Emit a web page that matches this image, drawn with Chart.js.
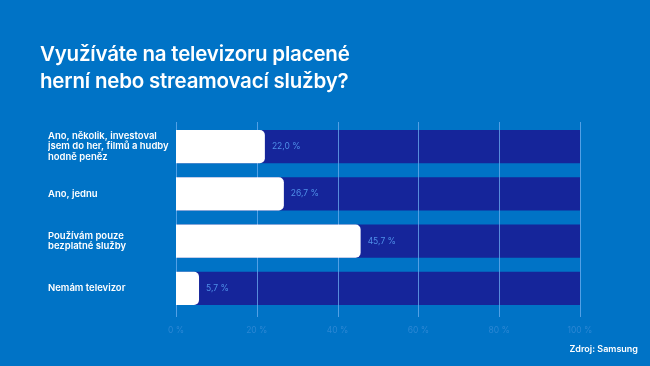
<!DOCTYPE html>
<html>
<head>
<meta charset="utf-8">
<script src="https://cdn.jsdelivr.net/npm/chart.js@4"></script>
<style>
  body { margin: 0; background: #0073c6; }
  #wrap { position: relative; width: 650px; height: 366px; overflow: hidden; background: #0073c6; }
  #title {
    position: absolute; left: 40px; top: 40px;
    color: #fff; font-family: Inter, sans-serif; font-weight: 600;
    font-size: 20.5px; line-height: 27px; letter-spacing: -0.2px;
  }
  #source {
    position: absolute; right: 12px; top: 343px;
    color: #fff; font-family: Inter, sans-serif; font-weight: 600; font-size: 9px;
  }
</style>
</head>
<body>
<div id="wrap">
  <canvas id="chart" width="650" height="366"></canvas>
  <div id="title">Využíváte na televizoru placené<br>herní nebo streamovací služby?</div>
  <div id="source">Zdroj: Samsung</div>
</div>
<script>
    //Data
    const categories = [
        ["Ano, několik, investoval", "jsem do her, filmů a hudby", "hodně peněz"],
        "Ano, jednu",
        ["Používám pouze", "bezplatné služby"],
        "Nemám televizor"
    ];
    const shares = [22.0, 26.7, 45.7, 5.7];
    const totals = [100, 100, 100, 100];
    const xTicks = [0, 20, 40, 60, 80, 100];

    const colors = {
        bg : "#0073c6",
        navy : "#15259a",
        white : "#ffffff",
        grid : "rgba(110, 175, 240, 0.75)",
        tick : "#2a87d4",
        value : "#4f8fe8"
    };

    const fmt = v => v.toFixed(1).replace(".", ",") + " %";

    //Grid lines go over the navy bars but under the white ones
    const gridOverNavy = {
        id : "gridOverNavy",
        afterDatasetDraw(chart, args) {
            if (args.index !== 1) return;
            const ctx = chart.ctx;
            const x = chart.scales.x;
            const area = chart.chartArea;
            ctx.save();
            ctx.strokeStyle = colors.grid;
            ctx.lineWidth = 1;
            for (const t of xTicks) {
                const px = Math.round(x.getPixelForValue(t)) + 0.5;
                ctx.beginPath();
                ctx.moveTo(px, area.top - 1);
                ctx.lineTo(px, area.bottom + 5);
                ctx.stroke();
            }
            ctx.restore();
        }
    };

    const valueLabels = {
        id : "valueLabels",
        afterDatasetsDraw(chart) {
            const ctx = chart.ctx;
            const meta = chart.getDatasetMeta(0);
            ctx.save();
            ctx.fillStyle = colors.value;
            ctx.font = "400 8.5px Inter, sans-serif";
            ctx.textAlign = "left";
            ctx.textBaseline = "middle";
            meta.data.forEach((bar, i) => {
                ctx.fillText(fmt(shares[i]), bar.x + 7, bar.y);
            });
            ctx.restore();
        }
    };

    new Chart("chart", {
        type : "bar",
        data : {
            labels : categories,
            datasets : [
                {
                    label : "share",
                    data : shares,
                    backgroundColor : colors.white,
                    borderRadius : 5,
                    borderSkipped : "start",
                    grouped : false,
                    barPercentage : 0.7,
                    categoryPercentage : 1
                },
                {
                    label : "total",
                    data : totals,
                    backgroundColor : colors.navy,
                    grouped : false,
                    barPercentage : 0.7,
                    categoryPercentage : 1
                }
            ]
        },
        options : {
            indexAxis : "y",
            responsive : false,
            animation : false,
            layout : { padding : { left : 48, right : 70, top : 123, bottom : 29 } },
            plugins : {
                legend : { display : false },
                tooltip : { enabled : false }
            },
            scales : {
                x : {
                    min : 0,
                    max : 100,
                    border : { display : false },
                    grid : { display : false, drawTicks : false },
                    afterFit(scale) { scale.height = 25; },
                    ticks : {
                        stepSize : 20,
                        padding : 13,
                        color : colors.tick,
                        font : { family : "Inter", size : 8.5 },
                        callback : v => v + " %"
                    }
                },
                y : {
                    border : { display : false },
                    grid : { display : false },
                    afterFit(scale) { scale.width = 128; },
                    ticks : {
                        crossAlign : "far",
                        color : colors.white,
                        font : { family : "Inter", size : 9.5, weight : "600", lineHeight : 1.15 }
                    }
                }
            }
        },
        plugins : [gridOverNavy, valueLabels]
    });
</script>
</body>
</html>
